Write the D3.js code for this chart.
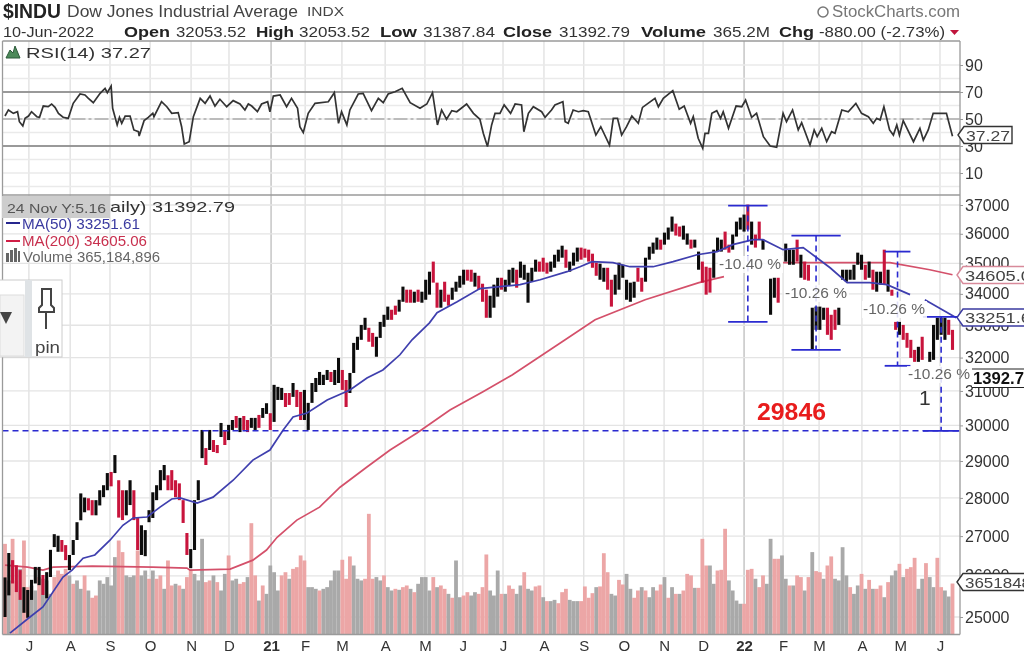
<!DOCTYPE html>
<html><head><meta charset="utf-8">
<script src="https://cdn.jsdelivr.net/npm/d3@7/dist/d3.min.js"></script>
<style>html,body{margin:0;padding:0;background:#fff;overflow:hidden}svg{display:block;filter:blur(0.55px)}text{font-family:"Liberation Sans",Arial,sans-serif}</style>
</head><body><div id="chart"></div>
<script>
// ---- data ----
const highs=[25960,26570,26390,26260,26140,25720,25650,25900,26220,26220,
26020,26090,26650,27050,27010,26900,26770,26520,26900,27360,
28120,28010,27990,27940,27940,28205,28340,28670,28700,29165,
28475,28205,28205,28475,28205,27480,27280,27155,27675,28150,
28340,28750,28890,28610,28750,28475,28390,27940,27080,26670,
27940,28475,29870,29360,29870,29585,29445,30070,29870,30015,
30155,30270,30215,30270,30155,30215,30215,30300,30500,30640,
30350,31180,31120,31090,30940,30940,31235,31030,30970,31030,
30650,31235,31385,31565,31480,31625,31565,31625,31990,31625,
31325,31535,32450,32640,33010,33235,32920,32760,32640,33105,
33330,33590,33490,33620,33810,34235,34135,34135,34070,34135,
34070,34460,34725,35060,34365,34135,34395,33975,34200,34395,
34590,34790,34790,34790,34690,34590,34330,34135,33940,34300,
34525,34525,34460,34790,34855,34790,35060,34955,34690,34855,
35125,35060,35190,35025,35060,35290,35460,35595,35460,35060,
35360,35530,35530,35495,35460,35325,35025,34990,34855,34855,
34460,34625,35025,34955,34460,34365,34395,34855,34525,35190,
35560,35700,35870,35800,36040,36215,36595,36350,36250,36280,
36010,35800,35800,35395,35060,34890,34855,35460,35870,35800,
36075,35630,35975,36420,36560,36665,37015,36420,35975,36420,
35800,null,34495,34525,34525,null,35665,35460,35460,35800,
35290,35060,34955,33555,33590,33590,33555,33555,33330,33490,
33555,34790,34790,34790,34955,35360,35290,34955,35060,34790,
34725,34725,35460,34790,34135,33105,33105,33010,32760,32545,
32235,32330,32640,null,32175,33010,33235,33235,33235,33170,32855];
const lows=[25000,25520,25810,25600,25410,25100,24980,25410,25810,25770,
25530,25450,25970,26720,26600,26600,26390,26140,26520,26900,
27410,27620,27670,27540,27540,27800,28020,28205,28310,28670,
27480,27415,27540,27810,27415,26645,26520,26490,27360,27470,
27940,28205,28475,28205,28205,28020,27940,27340,26520,26190,
26645,27940,29080,28890,29305,29250,29220,29670,29445,29585,
29870,29930,29810,29870,29810,29930,29870,29930,30215,30330,
29870,30100,30735,30735,30530,30590,30825,30530,30155,30155,
29870,30650,30970,31175,31175,31325,31265,31175,31235,31030,
30530,30940,31535,32235,32545,32855,32485,32330,32025,32605,
32950,33170,33170,33330,33430,33745,33715,33715,33715,33745,
33715,33810,33975,34365,33555,33555,33745,33620,33810,34070,
34200,34300,34430,34395,34235,34135,33745,33235,33235,33555,
33910,34135,34070,34265,34365,34200,34525,34460,33715,34395,
34725,34725,34725,34660,34725,34855,35060,35190,34855,34725,
34925,35060,35125,35190,35060,34855,34590,34460,34395,34135,
33590,33975,34135,34525,33810,33745,33875,34395,34070,34395,
35125,35325,35460,35460,35630,35800,36075,35940,35905,35800,
35630,35495,35530,34790,34365,33975,34040,34525,35395,35395,
35460,35360,35460,35905,36145,36075,36145,35630,35530,35800,
35460,null,33330,33875,33715,null,35060,34955,34955,35060,
34525,34460,34430,32235,32855,32855,33170,32700,32545,32855,
33010,34460,34395,34460,34460,34955,34790,34460,34525,34135,
34070,34300,34300,34070,33940,32855,32700,32545,32300,31990,
31870,31870,31930,null,31870,31930,32545,32700,32545,32700,32235];
const priceColors="kkrrrkkkkkrkkkkrrkkkkkrrkkkkrkrrkkrrkkkkkkkrrrrrrkkkkrkrrkrkkrkrrkkrkkrkkkrrkrrkkkkkkkrkkrrkkkkkrrkkkkrrkkrrkrkkkrrkrrkkkkrrkrrrkkkrkkkrkkkkkrrrkkkkrkkkrrrrrkkrrkkkkkkrrkkkkrkkkrrkkrkkrrrkkkrrkkkkrkrrkrkkrkkkkrkrrkkkkrrrkkkkkkkrkrkkrkrrkrrrrkrkkkkkkrrr";
const volumes=[649,387,685,387,470,673,339,351,315,411,399,387,291,411,458,434,470,423,363,387,
327,423,315,263,279,387,363,411,351,554,673,590,423,411,423,602,423,458,399,458,
399,423,327,530,351,363,351,327,411,458,434,387,685,375,387,423,375,315,434,566,
387,399,363,375,411,797,423,243,351,291,494,446,315,423,446,399,470,482,566,530,
339,339,327,315,327,339,387,458,458,535,399,559,494,399,387,399,864,399,411,387,
423,339,315,327,320,339,351,327,303,363,411,411,315,411,339,351,327,291,263,530,
267,279,303,279,303,291,339,573,315,279,458,291,291,351,327,291,351,446,327,315,
344,351,267,239,239,248,224,303,327,248,239,239,239,344,263,296,339,344,582,446,
291,279,391,358,434,327,263,315,339,315,267,339,315,358,411,263,339,291,291,315,
434,423,334,334,685,494,494,363,458,463,757,387,315,243,220,220,463,470,399,339,
423,363,685,542,542,566,399,351,351,423,411,315,411,590,454,446,399,494,559,399,
387,625,423,339,291,351,434,327,391,327,327,351,267,375,423,458,506,411,470,482,
549,327,399,511,411,339,549,339,315,272,365];
const volumeColors="rgrrgrrggrgggrrrrgrggrgrrgggggrrgggrggrgrrgrrgrgrrgggrrgrggrggrrgrrgrggggrrgrrrrgggrgggggrrrgggrrrggrggrgrrgrggggrgrrgrggrrggrrrgggrgrrggrggrrgrggrrrgggrrrrgrrrggrrggrrgrggrrgrgrgrrrgrrrggrrrggggrrrgrrggrrggrgrrgrgrrgrrggggrggrgrgrrgrggrgrrrggrggrrggr";
const ma50Days=[1.3,6.6,10,15.3,17.7,20.6,23.7,27.7,31.1,33.8,37.5,40.9,44,46.2,50.7,54.9,60.2,65.4,69.9,73.4,76,79.7,85,91,95.5,99.7,104.2,107.4,112,114,119.3,125.3,130.6,135.9,141.2,148.3,151.7,154.9,160.4,164.9,171,176.3,182.6,187.9,192,197.4,200,205.3,210.6,214.2,217.7,222.2,228.2,232.7,238.8,240,242.7,251];
const ma50Values=[24620,25000,25240,25970,26140,26440,26520,26895,27280,27470,27495,27755,27970,28000,27865,28020,28475,29025,29305,29870,30240,30355,30735,31030,31385,31625,32085,32545,33075,33395,33745,34170,34235,34300,34460,34725,34890,35060,35025,34890,34890,35060,35290,35395,35630,35800,35800,35460,35530,35190,34855,34365,34365,34300,33975,null,33810,33235];
const ma200Days=[0,6,10,12.7,23,39,48,48.8,59.4,65.4,69,71.8,77,83,88.4,95.5,101.6,108.7,117.4,126,133.8,147.8,155.7,168.9,183.1,189.7,195,205.3,233.5,244,250];
const ma200Values=[26265,26215,26140,26215,26240,26215,26190,26140,26165,26390,26645,26970,27415,27755,28285,28835,29305,29785,30440,30970,31475,32545,33170,33810,34365,34560,null,35025,35025,34790,34625];
const rsiDays=[0,0.9,2.2,3.3,3.8,4.7,5.3,6.2,7,8.4,9.1,10.1,11.4,12.3,13.2,14.1,15.4,16.7,18,19.8,21.1,22,23.3,25.1,26.4,27,28,28.4,29.6,30.2,30.8,31.7,33,34,35.2,35.4,36.7,37.8,39,39.3,41.3,42.7,44,45.7,46.6,47.3,48.6,49.7,51.5,52.8,54.1,55.4,56.7,58.5,60.2,62,63.3,64.2,65.1,66.6,67.7,69.3,69.9,70.8,72.6,74.3,75.6,77.2,77.8,78.7,80,81.8,85.3,86.9,88,88.8,90.2,91,93.2,94.5,96.7,98.5,99.8,101.1,102.9,104.8,106.9,109.5,111.3,112.8,114.1,115.2,116.5,117.9,119.2,121.8,123.6,125.3,126.2,127.3,128.4,129.3,130.6,131.7,133.4,134.6,136.3,136.9,138.1,139.4,141.6,142.5,144.2,145.1,147.2,147.8,148.6,149.9,151.3,152.6,153.9,155.9,157.2,159.5,160.5,161.6,162.7,164,165.4,167.1,168.2,171.5,172.4,173.7,176.2,177.9,179.2,180.9,181.6,182.9,184.1,184.7,185.6,186.5,187.8,188.8,189.5,190.9,192.9,194.4,195.4,197,198.3,200.1,201.9,203.6,205.3,206.2,207.8,209.3,210.2,212.4,213.5,214.3,215.5,216.8,218.1,219,220.8,222.5,224.5,226,227.8,229.1,230,230.9,231.9,233.4,234.4,235.3,236,237,239.7,241.4,242.3,243.6,244.9,248.4,250];
const rsiValues=[52.2,56.7,54.2,55.4,48,44.8,50.5,52.2,55.4,51.7,51.2,59.6,59.1,61.1,58.6,54.2,51.2,50.5,61.6,68.5,67.8,65.3,62.1,69,72.7,69.5,74.4,57.9,45.6,51.2,46.8,52.2,52.2,41.9,40.6,37.4,48.8,51.2,54.2,51.7,62.8,59.1,54.2,54.7,44.3,31.5,33.2,51.7,65.3,61.6,67,59.6,64.6,59.1,63.6,61.1,56.7,61.1,59.6,55.4,61.1,62.8,55.4,67,67.8,59.1,65.3,57.9,44.3,39.9,54.2,61.6,62.8,69.5,46.8,55.4,45.6,56.7,68.5,69,56.2,65.3,62.1,68.5,70.2,72.7,62.1,57.9,61.1,69.5,45.6,56.7,49.8,56.2,55.4,61.1,54.2,49.8,39.4,29.6,45.6,54.2,54.2,60.4,54.2,61.1,60.4,40.6,54.2,59.1,55.4,51.2,56.7,60.4,62.8,48,46.8,56.7,55.4,56.2,55.4,38.1,44.3,30.7,50.5,50.5,38.1,44.3,52.2,46.8,58.6,65.3,59.1,65.3,71,57.2,59.6,46.8,51.7,35.7,28.3,39.4,39.4,54.2,56.2,50.5,55.4,43.1,59.6,59.1,64.1,51.2,54.2,36.9,30,29,54.2,48,56.7,41.9,47.3,30.7,41.9,36.9,43.1,33.2,40.6,39.4,56.7,55.4,61.6,54.2,51.7,46.8,50.5,49.3,59.1,41.9,38.1,45.6,38.1,48.8,33.2,43.1,34.4,41.9,54.2,54.2,37.27];
const monthTickDays=[6.3,17.2,27.7,38.3,49.1,59.1,70.2,79.2,88.9,100.3,110.8,120.8,131.4,142.2,152.7,163.3,173.9,184.2,195,205.3,214.8,226.1,236.2,246.7];
const monthLabels=["J","A","S","O","N","D","21","F","M","A","M","J","J","A","S","O","N","D","22","F","M","A","M","J"];
const priceTicks=[37000,36000,35000,34000,33000,32000,31000,30000,29000,28000,27000,26000,25000];
const rsiTicks=[90,70,50,30,10];
const rsiGridLevels=[80,60,40,20,0];
const measureDays=[196,214,235.5,247];
const measureTops=[36980,35940,35395,33265];
const measureBottoms=[33105,32235,31750,29846];
const measureLabels=["-10.40 %","-10.26 %","-10.26 %","-10.26 %"];
const supportLevel=29846;

// ---- scales ----
const W=1024,H=655;
const svg=d3.select("#chart").append("svg").attr("width",W).attr("height",H);
const x=d3.scaleLinear().domain([0,250]).range([5,952.5]);
const yP=d3.scaleLog().domain([25000,37000]).range([617,205]);
const yR=d3.scaleLinear().domain([30,70]).range([146,92]);
const yV=d3.scaleLinear().domain([0,900]).range([634.5,508.8]);
const L=2.5,R=960,T=41,B=634.5,SEP=195;

// grid
const g=svg.append("g");
const isYear=d=>d==="21"||d==="22";
monthTickDays.forEach((d,i)=>{
  g.append("line").attr("x1",x(d)).attr("x2",x(d)).attr("y1",T).attr("y2",B)
   .attr("stroke",isYear(monthLabels[i])?"#a8a8a8":"#e2e2e2").attr("stroke-width",isYear(monthLabels[i])?1:1.4);
});
priceTicks.forEach(v=>g.append("line").attr("x1",L).attr("x2",R).attr("y1",yP(v)).attr("y2",yP(v)).attr("stroke","#e4e4e4").attr("stroke-width",1.3));
rsiTicks.concat(rsiGridLevels).forEach(v=>g.append("line").attr("x1",L).attr("x2",R).attr("y1",yR(v)).attr("y2",yR(v)).attr("stroke","#eaeaea").attr("stroke-width",1.3));

// volume
const bw=3.8;
svg.append("g").selectAll("rect").data(volumes).join("rect")
  .attr("x",(d,i)=>x(i)-bw/2).attr("width",bw)
  .attr("y",d=>yV(d)).attr("height",d=>yV(0)-yV(d))
  .attr("fill",(d,i)=>volumeColors[i]==="r"?"#eca6a6":"#a9a9a9");

// RSI guide lines
[70,30].forEach(v=>svg.append("line").attr("x1",L).attr("x2",R).attr("y1",yR(v)).attr("y2",yR(v)).attr("stroke","#7c7c7c").attr("stroke-width",1.5));
svg.append("line").attr("x1",L).attr("x2",R).attr("y1",yR(50)).attr("y2",yR(50)).attr("stroke","#8a8a8a").attr("stroke-width",1.2).attr("stroke-dasharray","14,3,3,3");
const rsiPts=rsiDays.map((d,i)=>[d,rsiValues[i]]);
svg.append("path").attr("fill","none").attr("stroke","#333").attr("stroke-width",1.7)
  .attr("d",d3.line().x(d=>x(d[0])).y(d=>yR(d[1]))(rsiPts));

// MA lines
const ma=(days,vals,c)=>svg.append("path").attr("fill","none").attr("stroke",c).attr("stroke-width",1.7)
  .attr("d",d3.line().defined(d=>d[1]!=null).x(d=>x(d[0])).y(d=>yP(d[1]))(days.map((d,i)=>[d,vals[i]])));
ma(ma200Days,ma200Values,"#d4506a");

// price bars
svg.append("g").selectAll("line").data(highs.map((h,i)=>({h,l:lows[i],i})).filter(d=>d.h!=null)).join("line")
  .attr("x1",d=>x(d.i)).attr("x2",d=>x(d.i))
  .attr("y1",d=>yP(d.h)).attr("y2",d=>yP(d.l))
  .attr("stroke",d=>priceColors[d.i]==="r"?"#c8143c":"#0c0c0c").attr("stroke-width",3.1);
ma(ma50Days,ma50Values,"#3f3fae");

// support line + measures
const blue="#2a2ad0";
svg.append("line").attr("x1",L).attr("x2",R).attr("y1",yP(supportLevel)).attr("y2",yP(supportLevel)).attr("stroke",blue).attr("stroke-width",1.6).attr("stroke-dasharray","6,4");
const halfW=[5.2,6.5,3.4,4.8];
measureDays.forEach((d,i)=>{
  const m=svg.append("g").attr("stroke",blue);
  m.append("line").attr("x1",x(d-halfW[i])).attr("x2",x(d+halfW[i])).attr("y1",yP(measureTops[i])).attr("y2",yP(measureTops[i])).attr("stroke-width",1.8);
  m.append("line").attr("x1",x(d-halfW[i])).attr("x2",x(d+halfW[i])).attr("y1",yP(measureBottoms[i])).attr("y2",yP(measureBottoms[i])).attr("stroke-width",1.8);
  m.append("line").attr("x1",x(d)).attr("x2",x(d)).attr("y1",yP(measureTops[i])).attr("y2",yP(measureBottoms[i])).attr("stroke-width",1.6).attr("stroke-dasharray","6,4");
});
const label=(px,py,s,o={})=>{
  const t=svg.append("text").attr("x",px).attr("y",py).text(s)
   .attr("font-size",o.size||14).attr("fill",o.fill||"#333").attr("font-weight",o.weight||"normal");
  if(o.len)t.attr("textLength",o.len).attr("lengthAdjust","spacingAndGlyphs");
  if(o.anchor)t.attr("text-anchor",o.anchor);
  return t;
};
[[719,269],[785,298],[863,314],[908,379]].forEach((p,i)=>{
  svg.append("rect").attr("x",p[0]-1).attr("y",p[1]-13).attr("width",65).attr("height",17).attr("fill","#fff").attr("fill-opacity",0.85);
  label(p[0],p[1],measureLabels[i],{size:14,fill:"#666",len:62});
});
label(757,420,"29846",{size:23,weight:"bold",fill:"#e81c1c",len:69});
label(919,405,"1",{size:21,fill:"#333"});

// frame
const fr=svg.append("g").attr("stroke","#9a9a9a").attr("stroke-width",1.3);
fr.append("line").attr("x1",L).attr("x2",L).attr("y1",T).attr("y2",B);
fr.append("line").attr("x1",R).attr("x2",R).attr("y1",T).attr("y2",B);
fr.append("line").attr("x1",L).attr("x2",R).attr("y1",T).attr("y2",T);
fr.append("line").attr("x1",L).attr("x2",R).attr("y1",SEP).attr("y2",SEP);
fr.append("line").attr("x1",L).attr("x2",R).attr("y1",B).attr("y2",B);

// axes
const styleAxis=sel=>{sel.select(".domain").remove();sel.selectAll("line").attr("stroke","#999");
  sel.selectAll("text").attr("fill","#333").attr("font-size",16).style("font-family",'"Liberation Sans",Arial,sans-serif');};
svg.append("g").attr("transform",`translate(${R},0)`).call(d3.axisRight(yP).tickValues(priceTicks).tickFormat(d3.format("d")).tickSize(3).tickPadding(2)).call(styleAxis);
svg.append("g").attr("transform",`translate(${R},0)`).call(d3.axisRight(yR).tickValues(rsiTicks).tickSize(3).tickPadding(2)).call(styleAxis);
const xAxis=d3.axisBottom(x).tickValues(monthTickDays).tickFormat((d,i)=>monthLabels[i]).tickSize(0).tickPadding(6);
svg.append("g").attr("transform",`translate(0,${B})`).call(xAxis).call(s=>{
  s.select(".domain").remove();
  s.selectAll("text").attr("font-size",15).attr("fill","#333").style("font-family",'"Liberation Sans",Arial,sans-serif')
   .attr("font-weight",(d,i)=>isYear(monthLabels[i])?"bold":"normal");
});

// header
label(3,18,"$INDU",{size:20,weight:"bold",fill:"#222",len:58});
label(67,17,"Dow Jones Industrial Average",{size:16,fill:"#444",len:231});
label(307,16,"INDX",{size:13,fill:"#444",len:37});
label(3,37,"10-Jun-2022",{size:14,fill:"#333",len:91});
[["Open",124,46,"32053.52",176,70],["High",256,38,"32053.52",299,71],["Low",380,37,"31387.84",423,72],["Close",503,49,"31392.79",559,71],["Volume",641,65,"365.2M",713,57],["Chg",779,35,"-880.00 (-2.73%)",819,126]].forEach(r=>{
  label(r[1],37,r[0],{size:15,weight:"bold",fill:"#222",len:r[2]});
  label(r[4],37,r[3],{size:14,fill:"#333",len:r[5]});
});
svg.append("path").attr("d","M950,30h9l-4.5,5z").attr("fill","#c0143c");
svg.append("circle").attr("cx",823).attr("cy",12).attr("r",5).attr("fill","none").attr("stroke","#777").attr("stroke-width",1.5);
label(832,17,"StockCharts.com",{size:16,fill:"#777",len:128});

// legends
svg.append("path").attr("d","M6,58l4,-8l3,3l2,-7l5,12z").attr("fill","#4d8a5a").attr("stroke","#2d5a3a");
label(26,58,"RSI(14) 37.27",{size:15,fill:"#333",len:125});
svg.append("rect").attr("x",2).attr("y",196).attr("width",108).attr("height",22).attr("fill","#cdcdcd");
label(7,213,"24 Nov Y:5.16",{size:13,fill:"#555",len:99});
label(110,212,"aily) 31392.79",{size:15,fill:"#333",len:125});
svg.append("line").attr("x1",6).attr("x2",20).attr("y1",223).attr("y2",223).attr("stroke","#26268e").attr("stroke-width",2);
label(22,229,"MA(50) 33251.61",{size:14,fill:"#3a3aa0",len:118});
svg.append("line").attr("x1",6).attr("x2",20).attr("y1",241).attr("y2",241).attr("stroke","#d01e46").attr("stroke-width",2);
label(22,246,"MA(200) 34605.06",{size:14,fill:"#c8304e",len:125});
[[6,253,3,9],[10,250,3,12],[14,248,3,14],[18,251,2,11]].forEach(r=>svg.append("path").attr("d",`M${r[0]},${r[1]}h${r[2]}v${r[3]}h${-r[2]}z`).attr("fill","#666"));
label(23,262,"Volume 365,184,896",{size:14,fill:"#666",len:137});

// pin widget
svg.append("rect").attr("x",-1).attr("y",280).attr("width",63).attr("height",77).attr("fill","#fff").attr("stroke","#ccc");
svg.append("rect").attr("x",0).attr("y",295).attr("width",24).attr("height",61).attr("fill","#f3f3f3").attr("stroke","#ddd");
svg.append("rect").attr("x",25).attr("y",280).attr("width",7).attr("height",77).attr("fill","#dfe3e6");
svg.append("path").attr("d","M0,312h12l-6,12z").attr("fill","#444");
svg.append("path").attr("d","M42,289h9v16l3,3v4h-15v-4l3,-3zM46,312v17").attr("fill","none").attr("stroke","#444").attr("stroke-width",2);
label(35,353,"pin",{size:16,fill:"#444",len:25});

// value tags
const tag=(py,w,s,c,o={})=>{
  const h=o.h||17,x0=o.x0||957;
  svg.append("path").attr("d",`M${x0},${py}l6,${-h/2}h${w}v${h}h${-w}z`).attr("fill","#fff").attr("stroke",c).attr("stroke-width",1.4);
  label(x0+8,py+5.5,s,{size:15,fill:o.fill||"#444",len:o.len});
};
tag(135,48,"37.27","#333",{len:44,x0:958});
tag(275,70,"34605.0","#d88a9a",{len:66});
tag(317.5,70,"33251.6","#3a3aa0",{len:66});
tag(582,70,"3651848","#333",{len:66});
svg.append("rect").attr("x",972).attr("y",369).attr("width",52).attr("height",19).attr("fill","#fff");
svg.append("line").attr("x1",972).attr("x2",1024).attr("y1",369).attr("y2",369).attr("stroke","#222").attr("stroke-width",1.2);
svg.append("line").attr("x1",972).attr("x2",1024).attr("y1",387.5).attr("y2",387.5).attr("stroke","#222").attr("stroke-width",1.2);
label(973,384,"1392.7",{size:16,weight:"bold",fill:"#111",len:51});
</script></body></html>
